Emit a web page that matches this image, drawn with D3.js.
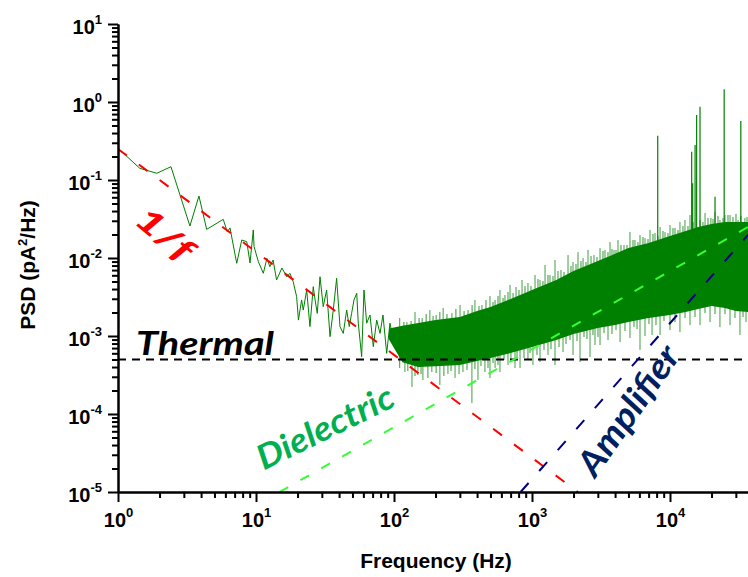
<!DOCTYPE html>
<html>
<head>
<meta charset="utf-8">
<script src="https://cdn.jsdelivr.net/npm/d3@7"></script>
<style>
  body { margin: 0; background: #ffffff; }
</style>
</head>
<body>
<div id="psd_plot"></div>
<script>

// measured trace, low frequencies (Hz, pA^2/Hz)
var traceF = [1.0, 1.44, 1.91, 2.42, 3.32, 3.86, 4.39, 5.79, 6.19, 6.48, 7.25, 7.88, 8.57, 9.05, 9.56, 9.68,
  10.4, 11.3, 12.0, 12.6, 13.3, 14.1, 15.4, 16.7, 17.6, 18.6, 19.7, 20.3, 21.4, 22.0, 23.3, 24.6, 26.0,
  26.8, 27.8, 29.1, 30.7, 32.5, 34.4, 36.3, 38.4, 40.6, 42.9, 45.4, 47.4, 49.3, 51.3, 53.7, 55.1, 58.3,
  60.6, 63.4, 67.0, 70.8, 74.9, 79.2, 83.2, 88.5, 93.5, 98.9, 104.6];
var tracePsd = [0.255, 0.141, 0.122, 0.148, 0.0257, 0.0624, 0.0233, 0.0313, 0.0217, 0.0243, 0.00855, 0.0170,
  0.0162, 0.00863, 0.0229, 0.0140, 0.00897, 0.00637, 0.00991, 0.00773, 0.00942, 0.00522, 0.00745, 0.00575,
  0.00637, 0.00497, 0.00319, 0.00160, 0.00290, 0.00215, 0.00389, 0.00132, 0.00429,
  0.00290, 0.00195, 0.00575, 0.00238, 0.00389, 0.00098, 0.00215, 0.00549, 0.00132, 0.00108, 0.00215,
  0.00132, 0.00195, 0.00290, 0.00353, 0.00146, 0.000543, 0.00389, 0.00146, 0.00186, 0.00073, 0.00160,
  0.00108, 0.00186, 0.00060, 0.00146, 0.000889, 0.00119];

// dense part of the trace: core of the band
var bandF = [92, 115, 150, 200, 300, 400, 500, 700, 1000, 1500, 2000, 3000, 4000, 5000, 7000, 10000, 13000,
  16000, 20000, 25000, 30000, 36750];
var bandHi = [1.25e-3, 1.35e-3, 1.47e-3, 1.6e-3, 1.75e-3, 2.09e-3, 2.35e-3, 2.98e-3, 3.89e-3, 5.22e-3, 6.81e-3,
  9.16e-3, 1.13e-2, 1.34e-2, 1.56e-2, 1.91e-2, 2.22e-2, 2.5e-2, 2.73e-2, 2.9e-2, 2.9e-2, 2.9e-2];
var bandLo = [9.0e-4, 4.6e-4, 4.0e-4, 4.1e-4, 4.25e-4, 4.78e-4, 5.22e-4, 6.05e-4, 7.23e-4, 8.89e-4, 1.06e-3,
  1.27e-3, 1.38e-3, 1.51e-3, 1.70e-3, 1.86e-3, 2.03e-3, 2.22e-3, 2.43e-3, 2.29e-3, 2.09e-3, 2.03e-3];

// larger spikes sticking out above / below the band
var spikeHiF = [110, 124, 142, 160, 182, 202, 227, 263, 301, 344, 386, 434, 496, 540, 586, 637, 693, 766,
  847, 935, 1052, 1143, 1243, 1350, 1468, 1622, 1824, 1983, 2154, 2344, 2546, 2812, 3111, 3381, 3675,
  3929, 4199, 4643, 5129, 5572, 6063, 6590, 7166, 7786, 8472, 9204, 10000, 10870, 11810, 12840, 13960,
  17950, 19800, 21180, 23010, 25040, 27230, 31120, 34910];
var spikeHiPsd = [0.00170, 0.00151, 0.00203, 0.00170, 0.00215, 0.00186, 0.00229, 0.00197, 0.00250, 0.00215,
  0.00290, 0.00250, 0.00326, 0.00290, 0.00389, 0.00336, 0.00451, 0.00425, 0.00522, 0.00478,
  0.00605, 0.00522, 0.00813, 0.00605, 0.00942, 0.00702, 0.0109, 0.00889, 0.0119, 0.0100,
  0.0127, 0.0109, 0.0134, 0.0127, 0.0160, 0.0127, 0.0170, 0.0147, 0.0215, 0.0170,
  0.0197, 0.0180, 0.0229, 0.0209, 0.0250, 0.0215, 0.0265, 0.0243, 0.0290, 0.0307,
  0.0356, 0.0378, 0.0326, 0.0389, 0.0307, 0.0356, 0.0356, 0.0307, 0.0326];
var spikeLoF = [120, 135, 149, 162, 188, 215, 246, 277, 316, 367, 406, 456, 496, 540, 586, 670, 753, 819,
  935, 1016, 1143, 1306, 1468, 1678, 1983, 2228, 2633, 2862, 3111, 3555, 4345, 5129, 6063, 6590, 7413,
  8472, 10000, 11810, 13960, 16500, 19500, 23010, 27230, 32140, 35560];
var spikeLoPsd = [0.000345, 0.000222, 0.000316, 0.000273, 0.000345, 0.000235, 0.000326, 0.000290, 0.000345, 0.000138,
  0.000273, 0.000345, 0.000290, 0.000389, 0.000345, 0.000425, 0.000389, 0.000389, 0.000492, 0.000425,
  0.000464, 0.000571, 0.000425, 0.000624, 0.000571, 0.000464, 0.000538, 0.000767, 0.000767, 0.000889,
  0.000837, 0.000942, 0.000662, 0.00100, 0.00103, 0.00103, 0.00119, 0.00112, 0.00138, 0.00138,
  0.00151, 0.00130, 0.00138, 0.00103, 0.00151];

// short hairs along the band edges
var hairHiF = [118, 133, 152, 171, 192, 215, 242, 281, 322, 368, 413, 464, 522, 567, 617, 670, 729, 805,
  890, 984, 1105, 1201, 1306, 1420, 1543, 1706, 1917, 2084, 2265, 2462, 2677, 2958, 3269, 3553, 3799,
  4062, 4415, 4880, 5394, 5863, 6373, 6927, 7530, 8185, 8898, 9672, 10510, 11430, 12420, 13500, 14680,
  16500, 17340, 18850, 20490, 22270, 24220, 26320, 28610, 30080, 32690, 36140];
var hairHiPsd = [1.51e-3, 1.56e-3, 1.70e-3, 1.91e-3, 1.81e-3, 2.03e-3, 1.91e-3, 2.22e-3, 2.09e-3, 2.50e-3,
  2.42e-3, 2.89e-3, 2.73e-3, 3.26e-3, 3.07e-3, 3.67e-3, 3.56e-3, 3.89e-3, 4.38e-3, 4.38e-3,
  5.38e-3, 5.07e-3, 6.05e-3, 5.88e-3, 6.81e-3, 6.62e-3, 7.90e-3, 8.38e-3, 9.15e-3, 8.89e-3,
  1.06e-2, 1.03e-2, 1.23e-2, 1.19e-2, 1.30e-2, 1.27e-2, 1.47e-2, 1.47e-2, 1.70e-2, 1.60e-2,
  1.86e-2, 1.75e-2, 2.03e-2, 1.91e-2, 2.22e-2, 2.09e-2, 2.42e-2, 2.29e-2, 2.57e-2, 2.57e-2,
  2.89e-2, 3.07e-2, 2.89e-2, 3.26e-2, 3.16e-2, 3.46e-2, 3.26e-2, 3.56e-2, 3.35e-2, 3.67e-2,
  3.46e-2, 3.35e-2];
var hairLoF = [110, 126, 142, 157, 176, 202, 230, 259, 296, 338, 386, 427, 480, 522, 567, 627, 704, 779,
  875, 967, 1087, 1222, 1373, 1570, 1764, 1886, 2119, 2382, 2503, 2767, 3008, 3325, 3799, 4062, 4720,
  5484, 5768, 7044, 7916, 9048, 10870, 12850, 15180, 17930, 21190, 25030, 29580, 33810];
var hairLoPsd = [3.89e-4, 3.56e-4, 3.07e-4, 3.26e-4, 2.89e-4, 3.35e-4, 3.07e-4, 3.56e-4, 3.26e-4, 3.67e-4,
  3.77e-4, 4.12e-4, 3.89e-4, 4.51e-4, 4.25e-4, 4.92e-4, 4.64e-4, 5.38e-4, 5.22e-4, 6.05e-4,
  5.71e-4, 6.62e-4, 6.81e-4, 7.23e-4, 7.90e-4, 8.89e-4, 8.63e-4, 9.71e-4, 9.15e-4, 1.03e-3,
  9.71e-4, 1.09e-3, 1.06e-3, 1.19e-3, 1.16e-3, 1.30e-3, 1.23e-3, 1.42e-3, 1.38e-3, 1.56e-3,
  1.51e-3, 1.70e-3, 1.75e-3, 1.97e-3, 1.91e-3, 1.91e-3, 1.70e-3, 1.75e-3];

// tall peaks
var peakF = [8150, 14360, 14600, 15200, 15600, 16500, 21200, 24700, 32600];
var peakPsd = [0.370, 0.231, 0.0907, 0.281, 0.681, 0.870, 0.0611, 1.46, 0.570];

// noise models (end points of the dashed lines)
var flickerF = [1, 2150], flickerPsd = [0.25, 1.0e-5];
var thermalF = [1, 36750], thermalPsd = [5.0e-4, 5.0e-4];
var dielectricF = [14.8, 36750], dielectricPsd = [1.0e-5, 0.025];
var amplifierF = [827, 36750], amplifierPsd = [1.0e-5, 0.0197];

// ticks
var xMajor = [1, 10, 100, 1000, 10000], xExp = ["0", "1", "2", "3", "4"];
var yMajor = [1e-5, 1e-4, 1e-3, 1e-2, 1e-1, 1, 10], yExp = ["-5", "-4", "-3", "-2", "-1", "0", "1"];


var margin = { top: 24, right: 0, bottom: 85, left: 118 },
  width = 748 - margin.left - margin.right,
  height = 577 - margin.top - margin.bottom;

var axisFont = "'Liberation Sans', Arial, sans-serif";
var labelFont = "Lato, 'Open Sans', sans-serif";

var svg = d3.select("#psd_plot")
  .append("svg")
  .attr("width", 748)
  .attr("height", 577)
  .append("g")
  .attr("transform", "translate(" + margin.left + "," + margin.top + ")");

var x = d3.scaleLog()
  .domain([1, 36750])
  .range([0, width]);
var y = d3.scaleLog()
  .domain([1e-5, 10])
  .range([height, 0]);

svg.append("clipPath")
  .attr("id", "plotclip")
  .append("rect")
  .attr("x", 0).attr("y", 0)
  .attr("width", width).attr("height", height);

var plot = svg.append("g").attr("clip-path", "url(#plotclip)");

//-- measured PSD --//
var green = "#008000";

// band edges as piecewise functions of pixel x, used as bases for the spikes
var hiEdge = d3.scaleLinear().domain(bandF.map(x)).range(bandHi.map(y)).clamp(true);
var loEdge = d3.scaleLinear().domain(bandF.map(x)).range(bandLo.map(y)).clamp(true);

var drawSpikes = function (fs, vs, edge, inset, width, opacity) {
  plot.append("g")
    .attr("stroke", green)
    .attr("stroke-width", width)
    .attr("stroke-opacity", opacity)
    .selectAll("line")
    .data(fs)
    .enter().append("line")
    .attr("x1", function(d) { return x(d) })
    .attr("x2", function(d) { return x(d) })
    .attr("y1", function(d) { return edge(x(d)) + inset })
    .attr("y2", function(d, i) { return y(vs[i]) });
}

drawSpikes(hairHiF, hairHiPsd, hiEdge, 4, 1, 0.8);
drawSpikes(hairLoF, hairLoPsd, loEdge, -4, 1, 0.8);
drawSpikes(spikeHiF, spikeHiPsd, hiEdge, 4, 1, 0.75);
drawSpikes(spikeLoF, spikeLoPsd, loEdge, -4, 1, 0.75);
drawSpikes(peakF, peakPsd, hiEdge, 4, 1.2, 1);

var band = bandF.map(function(f, i) { return { f: f, hi: bandHi[i], lo: bandLo[i] } });
plot.append("path")
  .datum(band)
  .attr("fill", green)
  .attr("d", d3.area()
    .x(function(d) { return x(d.f) })
    .y0(function(d) { return y(d.lo) })
    .y1(function(d) { return y(d.hi) }));

var trace = traceF.map(function(f, i) { return { f: f, v: tracePsd[i] } });
plot.append("path")
  .datum(trace)
  .attr("fill", "none")
  .attr("stroke", green)
  .attr("stroke-width", 1)
  .attr("d", d3.line()
    .x(function(d) { return x(d.f) })
    .y(function(d) { return y(d.v) }));

//-- noise models --//
var drawModel = function (fs, vs, color, dash) {
  plot.append("path")
    .datum(fs.map(function(f, i) { return { f: f, v: vs[i] } }))
    .attr("fill", "none")
    .attr("stroke", color)
    .attr("stroke-width", 2)
    .style("stroke-dasharray", dash)
    .attr("d", d3.line()
      .x(function(d) { return x(d.f) })
      .y(function(d) { return y(d.v) }));
}

drawModel(thermalF, thermalPsd, "#000000", "8, 6");
drawModel(flickerF, flickerPsd, "#ff0000", "11, 15");
drawModel(dielectricF, dielectricPsd, "#33ff33", "10, 14");
drawModel(amplifierF, amplifierPsd, "#000080", "12, 16");

//-- axes --//
var styleAxis = function (g) {
  g.attr("font-family", axisFont).attr("font-size", 20).attr("font-weight", "bold");
  g.select(".domain").attr("stroke-width", 2);
  g.selectAll(".tick line").attr("stroke-width", 2);
}

var supLabels = function (g, exps) {
  g.selectAll(".tick text").each(function(d, i) {
    var t = d3.select(this);
    t.text(null);
    t.append("tspan").text("10");
    t.append("tspan").attr("font-size", 13).attr("dy", -10).text(exps[i]);
  });
}

var xMinor = x.ticks().filter(function(d) { return xMajor.indexOf(d) < 0 });
var yMinor = y.ticks().filter(function(d) { return yMajor.indexOf(d) < 0 });

svg.append("g")
  .attr("transform", "translate(0," + height + ")")
  .call(d3.axisBottom(x).tickValues(xMinor).tickSize(6).tickSizeOuter(0).tickFormat(""))
  .call(styleAxis);
svg.append("g")
  .attr("transform", "translate(0," + height + ")")
  .call(d3.axisBottom(x).tickValues(xMajor).tickSize(10).tickSizeOuter(0).tickPadding(11))
  .call(styleAxis)
  .call(supLabels, xExp);

svg.append("g")
  .call(d3.axisLeft(y).tickValues(yMinor).tickSize(6).tickSizeOuter(0).tickFormat(""))
  .call(styleAxis);
svg.append("g")
  .call(d3.axisLeft(y).tickValues(yMajor).tickSize(10).tickSizeOuter(0).tickPadding(6))
  .call(styleAxis)
  .call(supLabels, yExp)
  .selectAll(".tick text").attr("dy", "0.45em");

// axis titles
svg.append("text")
  .attr("text-anchor", "middle")
  .attr("font-family", axisFont)
  .attr("font-size", 21)
  .attr("font-weight", "bold")
  .attr("x", 436 - margin.left)
  .attr("y", 568 - margin.top)
  .text("Frequency (Hz)");

var yTitle = svg.append("text")
  .attr("text-anchor", "middle")
  .attr("font-family", axisFont)
  .attr("font-size", 21)
  .attr("font-weight", "bold")
  .attr("transform", "translate(" + (35 - margin.left) + "," + (265 - margin.top) + ")rotate(-90)");
yTitle.append("tspan").text("PSD (pA");
yTitle.append("tspan").attr("font-size", 13).attr("dy", -8).text("2");
yTitle.append("tspan").attr("dy", 8).text("/Hz)");

//-- annotations --//
var note = function (txt, cx, cy, angle, len, size, color) {
  svg.append("text")
    .attr("text-anchor", "middle")
    .attr("font-family", labelFont)
    .attr("font-size", size)
    .attr("font-weight", "bold")
    .attr("font-style", "italic")
    .attr("fill", color)
    .attr("dy", "0.36em")
    .attr("textLength", len)
    .attr("lengthAdjust", "spacingAndGlyphs")
    .attr("transform", "translate(" + (cx - margin.left) + "," + (cy - margin.top) + ")rotate(" + angle + ")")
    .text(txt);
}

note("1/f", 165, 234, 40, 64, 33, "#ff0000");
note("Thermal", 205, 343, 0, 138, 33, "#000000");
note("Dielectric", 325, 427, -26, 148, 34, "#00b050");
note("Amplifier", 628, 410, -55, 150, 35, "#002060");

</script>
</body>
</html>
